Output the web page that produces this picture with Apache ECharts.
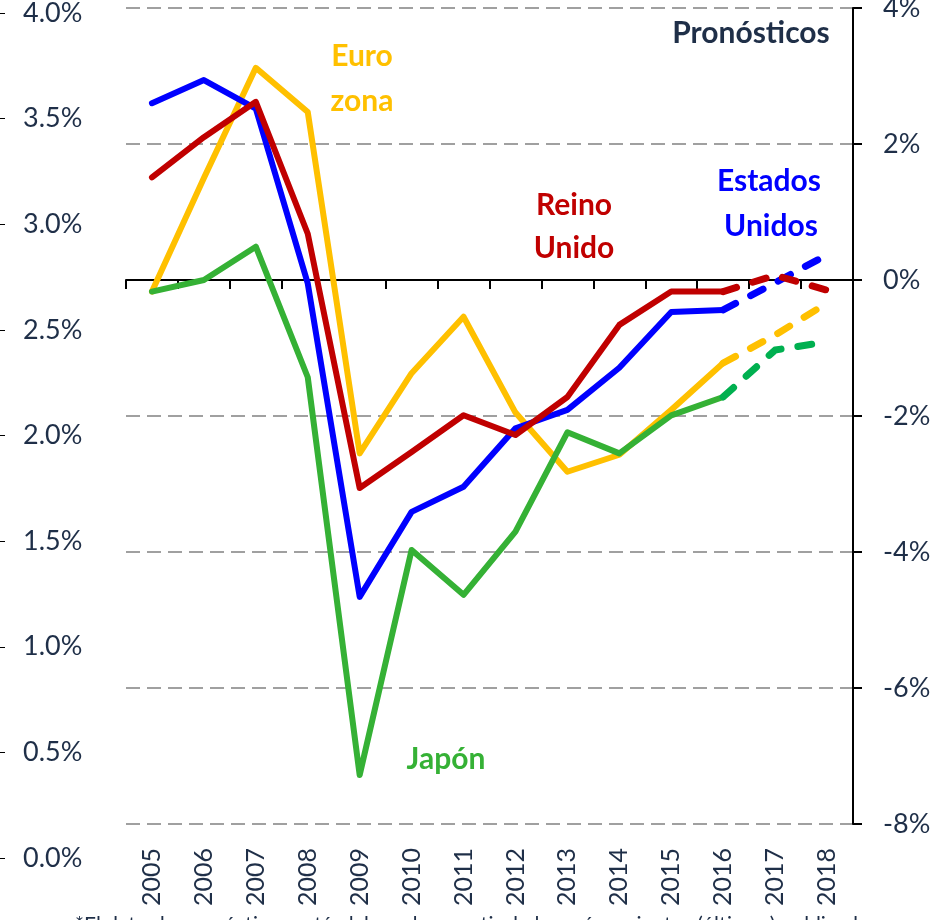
<!DOCTYPE html>
<html>
<head>
<title>Brecha de producción</title>
<meta charset="UTF-8">
<script src="https://cdn.jsdelivr.net/npm/echarts@6/dist/echarts.min.js"></script>
<style>
html, body { margin: 0; padding: 0; background: #fff; }
#chart-container { width: 935px; height: 920px; }
</style>
</head>
<body>
<div id="chart-container"></div>

<script>
// datos (% , eje derecho)
var years = ['2005','2006','2007','2008','2009','2010','2011','2012','2013','2014','2015','2016','2017','2018'];
var usa   = [2.60, 2.94, 2.52, -0.05, -4.66, -3.41, -3.04, -2.18, -1.91, -1.29, -0.47, -0.44, -0.04, 0.37];
var uk    = [1.51, 2.10, 2.62, 0.68, -3.06, -2.53, -1.99, -2.28, -1.72, -0.66, -0.17, -0.17, 0.07, -0.15];
var euro  = [-0.17, 1.50, 3.12, 2.47, -2.55, -1.37, -0.54, -1.95, -2.82, -2.57, -1.91, -1.22, -0.81, -0.34];
var japan = [-0.17, 0.00, 0.49, -1.43, -7.28, -3.97, -4.63, -3.70, -2.24, -2.55, -1.99, -1.72, -1.03, -0.91];
var rightTicks = [-8, -6, -4, -2, 0, 2, 4];
var leftTicks = [0, 0.5, 1, 1.5, 2, 2.5, 3, 3.5, 4];
var forecastStart = 11; // 2016: desde aquí línea discontinua

var textColor = '#1f2f48';
var font = 'Lato, "Open Sans", sans-serif';

var myChart = echarts.init(document.getElementById('chart-container'));

function solidPart(arr) {
  return arr.map(function (v, i) { return i <= forecastStart ? v : null; });
}
function dashedPart(arr) {
  return arr.map(function (v, i) { return i >= forecastStart ? v : null; });
}

function makeSeries(name, arr, color, dashColor) {
  return [{
    name: name,
    type: 'line',
    xAxisIndex: 0,
    yAxisIndex: 0,
    data: solidPart(arr),
    symbol: 'none',
    silent: true,
    lineStyle: { color: color, width: 6, cap: 'round', join: 'round' }
  }, {
    name: name + ' pronóstico',
    type: 'line',
    xAxisIndex: 0,
    yAxisIndex: 0,
    data: dashedPart(arr),
    symbol: 'none',
    silent: true,
    lineStyle: { color: dashColor || color, width: 7, type: [14, 17], cap: 'round', join: 'round' }
  }];
}

var series = []
  .concat(makeSeries('Euro zona', euro, '#ffc000'))
  .concat(makeSeries('Estados Unidos', usa, '#0000ff'))
  .concat(makeSeries('Reino Unido', uk, '#c00000'))
  .concat(makeSeries('Japón', japan, '#35b135', '#00b050'));

function label(text, x, y, color, align) {
  return {
    type: 'text',
    x: x,
    y: y,
    style: {
      text: text,
      fill: color,
      font: 'bold 30px ' + font,
      align: align || 'center',
      verticalAlign: 'middle'
    }
  };
}

var option = {
  animation: false,
  grid: [
    { left: 126, right: 82, top: 8, bottom: 96, outerBoundsMode: 'none', containLabel: false },
    { left: 0, width: 10, top: 13, bottom: 62, outerBoundsMode: 'none', containLabel: false }
  ],
  xAxis: [{
    type: 'category',
    gridIndex: 0,
    data: years,
    boundaryGap: true,
    axisLine: { show: true, onZero: true, lineStyle: { color: '#000', width: 2 } },
    axisTick: { show: true, length: 9, lineStyle: { color: '#000', width: 2 } },
    axisLabel: { show: false },
    splitLine: { show: false }
  }, {
    type: 'category',
    gridIndex: 0,
    data: years,
    position: 'bottom',
    axisLine: { show: false, onZero: false },
    axisTick: { show: false },
    axisLabel: { show: true, rotate: 90, margin: 24, color: textColor, fontSize: 25, fontFamily: font }
  }, {
    type: 'category',
    gridIndex: 1,
    data: years,
    show: false
  }],
  yAxis: [{
    type: 'value',
    gridIndex: 0,
    position: 'right',
    min: rightTicks[0],
    max: rightTicks[rightTicks.length - 1],
    interval: 2,
    axisLine: { show: true, lineStyle: { color: '#000', width: 2 } },
    axisTick: { show: true, length: 9, lineStyle: { color: '#000', width: 2 } },
    axisLabel: {
      formatter: '{value}%', margin: 30, color: textColor, fontSize: 27, fontFamily: font, align: 'left'
    },
    splitLine: { show: true, lineStyle: { color: '#a0a0a0', width: 2, type: [14, 7] } }
  }, {
    type: 'value',
    gridIndex: 1,
    position: 'left',
    min: leftTicks[0],
    max: leftTicks[leftTicks.length - 1],
    interval: 0.5,
    axisLine: { show: false },
    axisTick: { show: true, inside: true, length: 5, lineStyle: { color: '#000', width: 1 } },
    axisLabel: {
      inside: true, margin: 23, color: textColor, fontSize: 27, fontFamily: font,
      formatter: function (v) { return v.toFixed(1) + '%'; }
    },
    splitLine: { show: false }
  }],
  series: series,
  graphic: [
    label('Pronósticos', 751, 33, textColor),
    label('Euro', 362, 56, '#ffc000'),
    label('zona', 362, 101, '#ffc000'),
    label('Reino', 574, 205, '#c00000'),
    label('Unido', 574, 248, '#c00000'),
    label('Estados', 769, 181, '#0000ff'),
    label('Unidos', 771, 226, '#0000ff'),
    label('Japón', 446, 759, '#35b135'),
    {
      type: 'text',
      x: 75,
      y: 915,
      style: {
        text: '*El dato de pronósticos está elaborado a partir de los más recientes (últimos) publicados',
        fill: textColor,
        font: '21px ' + font,
        align: 'left',
        verticalAlign: 'top'
      }
    }
  ]
};

myChart.setOption(option);
</script>
</body>
</html>
